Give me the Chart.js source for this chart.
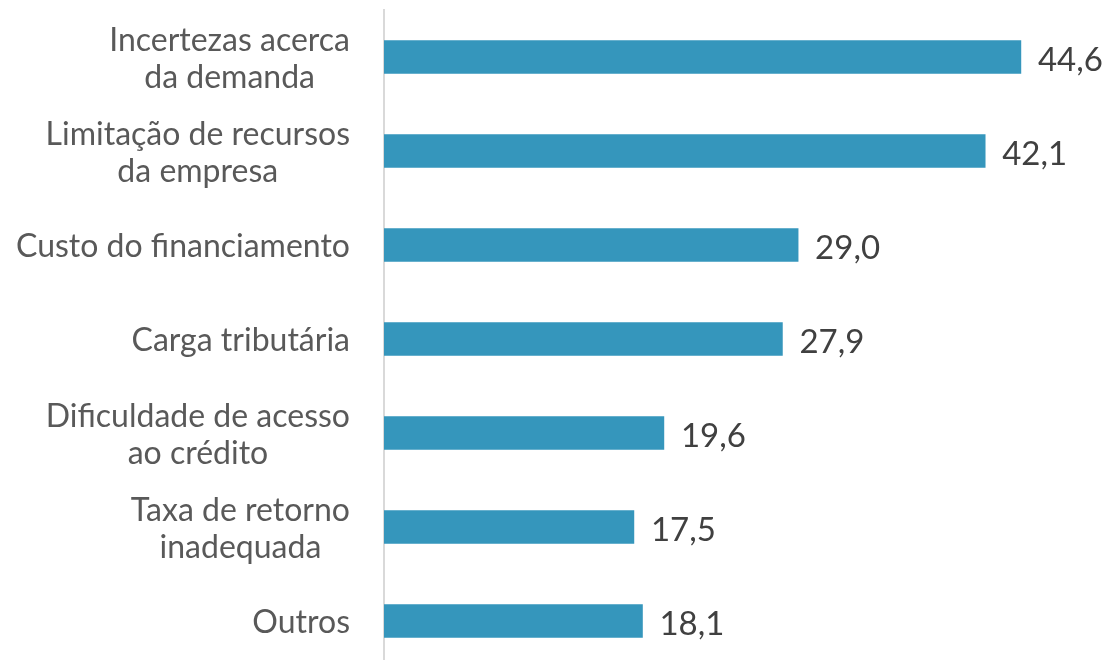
<!DOCTYPE html>
<html>
<head>
<meta charset="utf-8">
<script src="https://cdn.jsdelivr.net/npm/chart.js@4"></script>
<style>
html,body{margin:0;padding:0;background:#fff;overflow:hidden;}
#wrap{width:1109px;height:668px;position:relative;}
</style>
</head>
<body>
<div id="wrap"><canvas id="c" width="1109" height="668"></canvas></div>
<script>
const categories = [
  ["Incertezas acerca", "da demanda"],
  ["Limitação de recursos", "da empresa"],
  ["Custo do financiamento"],
  ["Carga tributária"],
  ["Dificuldade de acesso", "ao crédito"],
  ["Taxa de retorno", "inadequada"],
  ["Outros"]
];
const values = [44.6, 42.1, 29.0, 27.9, 19.6, 17.5, 18.1];
const valueLabels = ["44,6", "42,1", "29,0", "27,9", "19,6", "17,5", "18,1"];

const FONT = 'Lato, "Open Sans", sans-serif';

const labelPlugin = {
  id: 'valueLabels',
  afterDatasetsDraw(chart) {
    const ctx = chart.ctx;
    const meta = chart.getDatasetMeta(0);
    ctx.save();
    ctx.font = '33px ' + FONT;
    ctx.fillStyle = '#404040';
    ctx.textAlign = 'left';
    ctx.textBaseline = 'middle';
    meta.data.forEach((bar, i) => {
      ctx.fillText(valueLabels[i], bar.x + 17, bar.y + 3);
    });
    // category labels: block right-aligned, lines centred within block
    const y = chart.scales.y;
    const right = chart.chartArea.left - 34;
    const lh = 37;
    ctx.font = '32px ' + FONT;
    ctx.fillStyle = '#595959';
    ctx.textAlign = 'center';
    categories.forEach((lines, i) => {
      const cy = y.getPixelForTick(i) + 2;
      const maxW = Math.max(...lines.map(l => ctx.measureText(l).width));
      const cx = right - maxW / 2;
      const y0 = cy - (lines.length - 1) * lh / 2;
      lines.forEach((l, j) => ctx.fillText(l, cx, y0 + j * lh));
    });
    ctx.restore();
  }
};

new Chart(document.getElementById('c'), {
  type: 'bar',
  data: {
    labels: categories,
    datasets: [{
      data: values,
      backgroundColor: '#3596BC',
      borderWidth: 0,
      barThickness: 33
    }]
  },
  options: {
    indexAxis: 'y',
    responsive: false,
    animation: false,
    layout: { padding: { top: 10, right: 11, left: 0, bottom: 0 } },
    plugins: { legend: { display: false }, tooltip: { enabled: false } },
    scales: {
      x: { display: false, min: 0, max: 50 },
      y: {
        afterFit: s => { s.width = 384; s.paddingTop = 0; s.paddingBottom = 0; },
        grid: { display: false },
        border: { display: true, color: '#d9d9d9', width: 2 },
        ticks: { display: false }
      }
    }
  },
  plugins: [labelPlugin]
});
</script>
</body>
</html>
